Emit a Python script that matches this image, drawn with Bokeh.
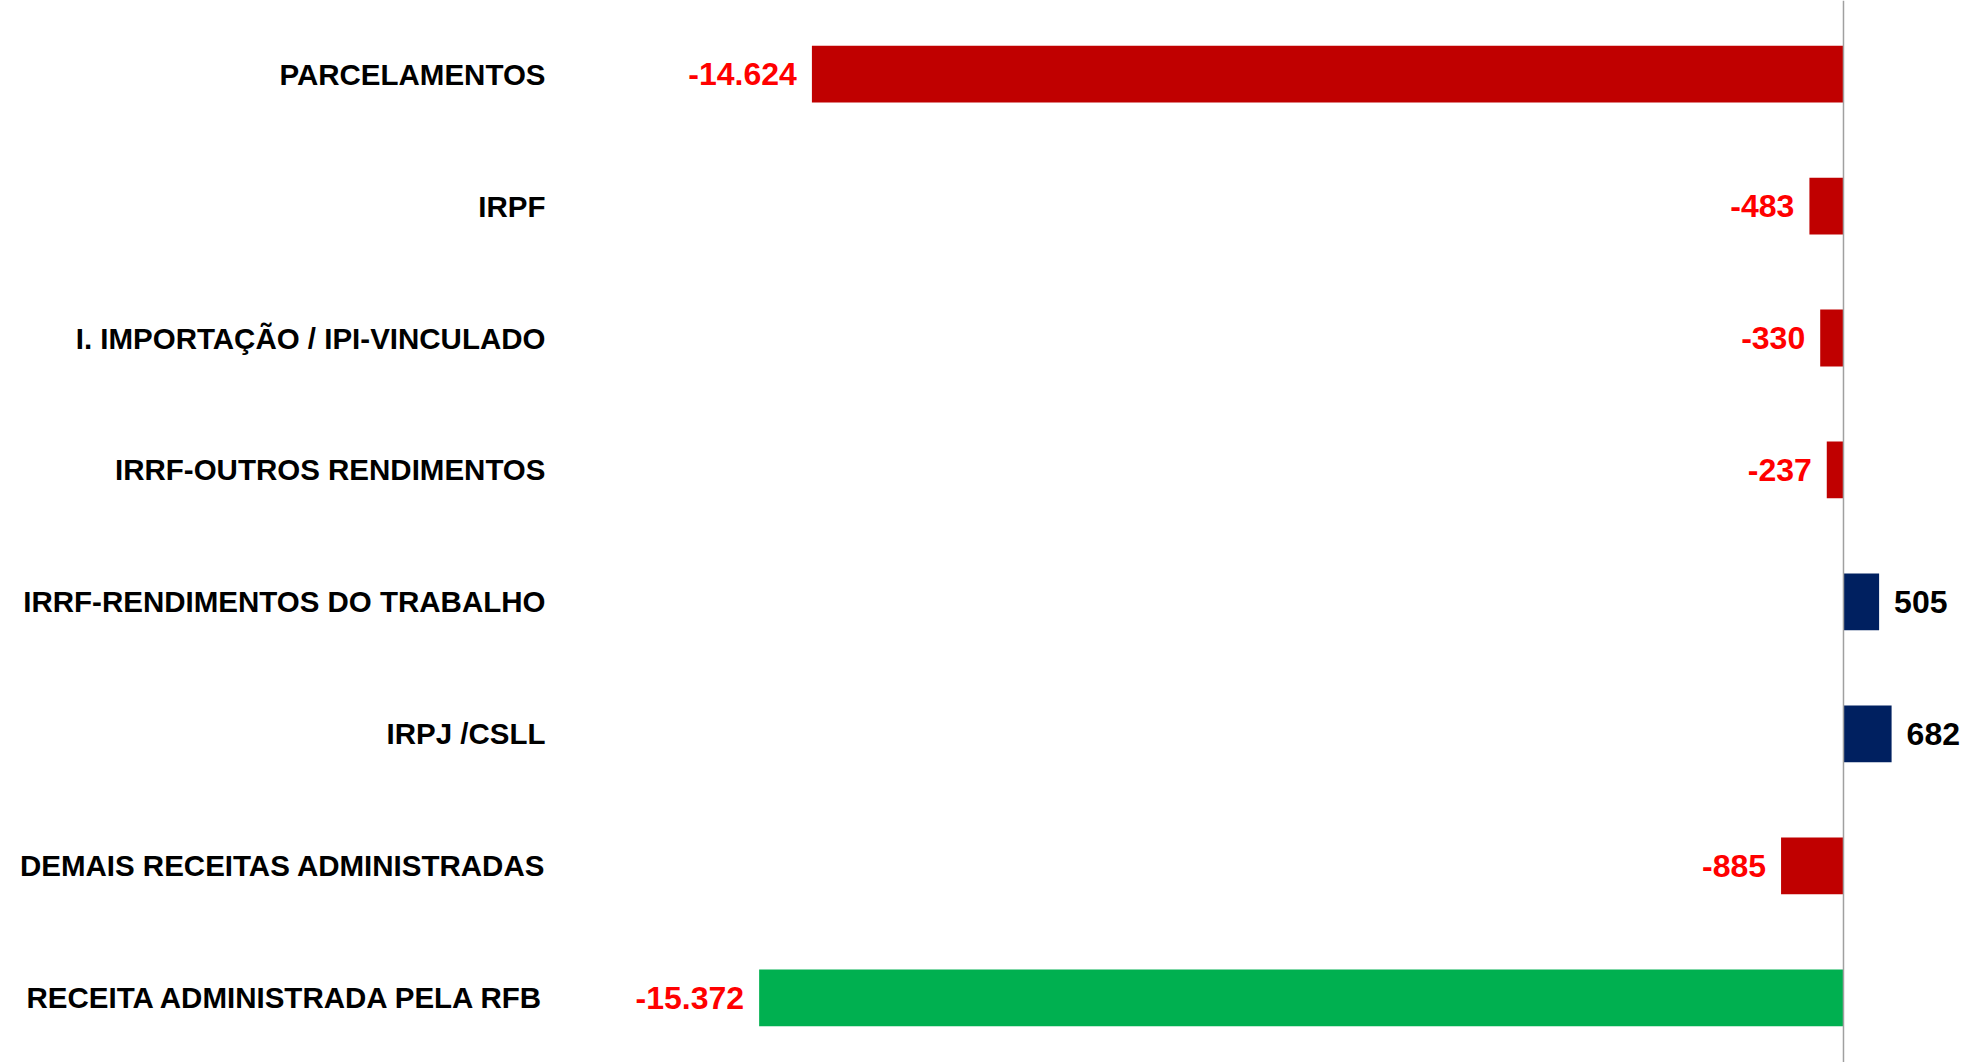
from bokeh.plotting import figure
from bokeh.models import Range1d, FixedTicker, Span, ColumnDataSource
from bokeh.embed import file_html
from bokeh.resources import INLINE
from bokeh.core.properties import value

categories = [
    "PARCELAMENTOS",
    "IRPF",
    "I. IMPORTAÇÃO / IPI-VINCULADO",
    "IRRF-OUTROS RENDIMENTOS",
    "IRRF-RENDIMENTOS DO TRABALHO",
    "IRPJ /CSLL",
    "DEMAIS RECEITAS ADMINISTRADAS",
    "RECEITA ADMINISTRADA PELA RFB",
]
values = [-14624, -483, -330, -237, 505, 682, -885, -15372]
value_labels = ["-14.624", "-483", "-330", "-237", "505", "682", "-885", "-15.372"]

RED = "#C00000"
NAVY = "#002060"
GREEN = "#00B050"

idx = list(range(len(categories)))
bar_colors = [GREEN if i == len(categories) - 1 else (RED if v < 0 else NAVY)
              for i, v in zip(idx, values)]
text_colors = ["#FF0000" if v < 0 else "#000000" for v in values]

neg = [v < 0 for v in values]
src_neg = ColumnDataSource(dict(
    y=[i for i, n in zip(idx, neg) if n],
    x=[v for v, n in zip(values, neg) if n],
    t=[l for l, n in zip(value_labels, neg) if n],
    c=[c for c, n in zip(text_colors, neg) if n],
))
src_pos = ColumnDataSource(dict(
    y=[i for i, n in zip(idx, neg) if not n],
    x=[v for v, n in zip(values, neg) if not n],
    t=[l for l, n in zip(value_labels, neg) if not n],
    c=[c for c, n in zip(text_colors, neg) if not n],
))
src_bars = ColumnDataSource(dict(y=idx, right=values, color=bar_colors))

p = figure(
    width=1978, height=1062,
    x_range=Range1d(-18188, 1914),
    y_range=Range1d(7.489, -0.557),
    output_backend="svg", toolbar_location=None,
    min_border_left=560, min_border_right=0, min_border_top=0, min_border_bottom=0,
)
p.outline_line_color = None
p.xgrid.visible = False
p.ygrid.visible = False
p.xaxis.visible = False
p.background_fill_color = "white"
p.border_fill_color = "white"

p.hbar(y="y", left=0, right="right", height=0.43, color="color",
       line_color=None, source=src_bars)

span = Span(location=0, dimension="height", line_color="#A0A0A0", line_width=1.5)
p.add_layout(span)

p.text(x="x", y="y", text="t", text_color="c", source=src_neg,
       x_offset=-15, text_align="right", text_baseline="middle",
       text_font=value("Liberation Sans"), text_font_style="bold",
       text_font_size="32px")
p.text(x="x", y="y", text="t", text_color="c", source=src_pos,
       x_offset=15, text_align="left", text_baseline="middle",
       text_font=value("Liberation Sans"), text_font_style="bold",
       text_font_size="32px")

yax = p.yaxis[0]
yax.ticker = FixedTicker(ticks=idx)
yax.major_label_overrides = {i: c for i, c in zip(idx, categories)}
yax.axis_line_color = None
yax.major_tick_line_color = None
yax.minor_tick_line_color = None
yax.major_tick_out = 0
yax.major_tick_in = 0
yax.major_label_standoff = 15
yax.major_label_text_font = "Liberation Sans"
yax.major_label_text_font_style = "bold"
yax.major_label_text_font_size = "29.5px"
yax.major_label_text_color = "#000000"

open("out.html", "w").write(file_html(p, INLINE))
